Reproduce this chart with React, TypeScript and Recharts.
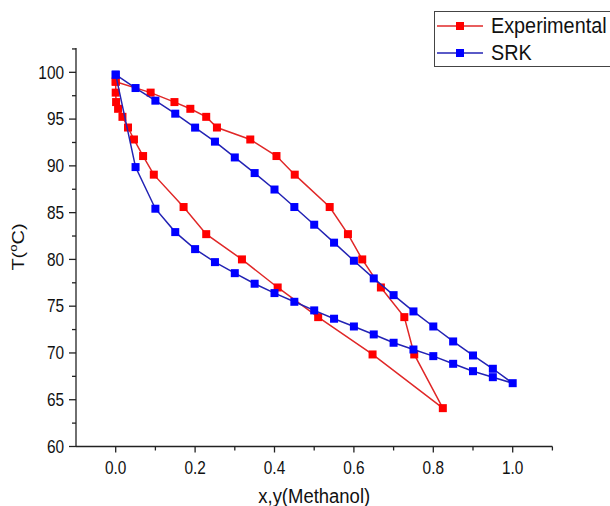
import React from "react";
import { Legend, Scatter, ScatterChart, XAxis, YAxis } from "recharts";

// Experimental T-x-y points, methanol mole fraction
const expT = [99.0, 97.83, 96.82, 96.1, 95.24, 94.1, 92.82, 91.05, 89.06, 85.6, 82.7, 80.0, 77.0, 73.83, 69.84, 64.1];
const expX = [0, 0, 0.001, 0.006, 0.017, 0.031, 0.046, 0.069, 0.096, 0.171, 0.228, 0.318, 0.408, 0.51, 0.647, 0.824];
const expY = [0, 0.088, 0.148, 0.188, 0.228, 0.255, 0.339, 0.405, 0.451, 0.539, 0.585, 0.621, 0.668, 0.727, 0.752, 0.824];

// SRK model
const srkX = [0, 0.05, 0.1, 0.15, 0.2, 0.25, 0.3, 0.35, 0.4, 0.45, 0.5, 0.55, 0.6, 0.65, 0.7, 0.75, 0.8, 0.85, 0.9, 0.95, 1.0];
const srkBubbleT = [99.75, 89.87, 85.42, 82.92, 81.1, 79.71, 78.53, 77.4, 76.4, 75.47, 74.55, 73.66, 72.83, 71.98, 71.09, 70.37, 69.66, 68.84, 68.05, 67.41, 66.77];
const srkDewT = [99.75, 98.32, 96.97, 95.58, 94.09, 92.59, 90.9, 89.23, 87.47, 85.6, 83.71, 81.79, 79.86, 77.97, 76.18, 74.44, 72.83, 71.23, 69.73, 68.31, 66.77];

const xTicks = [0, 0.1, 0.2, 0.3, 0.4, 0.5, 0.6, 0.7, 0.8, 0.9, 1.0, 1.1];
const yTicks = [60, 62.5, 65, 67.5, 70, 72.5, 75, 77.5, 80, 82.5, 85, 87.5, 90, 92.5, 95, 97.5, 100, 102.5];

// closed loop: liquid branch down, vapour branch back up
const expData = [
  ...expT.map((t, i) => ({ x: expX[i], T: t })),
  ...expT.map((t, i) => ({ x: expY[i], T: t })).slice(0, -1).reverse(),
];
const srkData = [
  ...srkX.map((x, i) => ({ x, T: srkBubbleT[i] })),
  ...srkX.map((x, i) => ({ x, T: srkDewT[i] })).slice(0, -1).reverse(),
];

const FONT = "'Liberation Sans', Arial, sans-serif";
const AXIS = "#222";
const SQUEEZE = 0.88; // source picture text is a bit narrow

const square = (fill: string) => (p: any) => (
  <rect x={p.cx - 4} y={p.cy - 4} width={8} height={8} fill={fill} />
);

const XTick = (p: any) => {
  const v = p.payload.value;
  const major = Math.abs(Math.round(v * 10) % 2) === 0;
  return (
    <g>
      <line x1={p.x} x2={p.x} y1={p.y} y2={p.y + (major ? 6 : 4)} stroke={AXIS} strokeWidth={1.3} />
      {major && (
        <text
          transform={`translate(${p.x}, ${p.y + 27}) scale(${SQUEEZE}, 1)`}
          textAnchor="middle"
          fontSize={17.5}
          fontFamily={FONT}
          fill="#111"
        >
          {v.toFixed(1)}
        </text>
      )}
    </g>
  );
};

const YTick = (p: any) => {
  const v = p.payload.value;
  const major = v % 5 === 0;
  return (
    <g>
      <line x1={p.x} x2={p.x - (major ? 7 : 4)} y1={p.y} y2={p.y} stroke={AXIS} strokeWidth={1.3} />
      {major && (
        <text
          transform={`translate(${p.x - 12}, ${p.y}) scale(${SQUEEZE}, 1)`}
          dy="0.36em"
          textAnchor="end"
          fontSize={17.5}
          fontFamily={FONT}
          fill="#111"
        >
          {v}
        </text>
      )}
    </g>
  );
};

const XTitle = (p: any) => {
  const vb = p.viewBox;
  return (
    <text
      transform={`translate(${vb.x + vb.width / 2}, ${vb.y + 56.5}) scale(${SQUEEZE}, 1)`}
      textAnchor="middle"
      fontSize={21}
      fontFamily={FONT}
      fill="#111"
    >
      x,y(Methanol)
    </text>
  );
};

const YTitle = () => (
  <text
    transform="translate(23.5, 247) rotate(-90) scale(1, 0.8)"
    textAnchor="middle"
    fontSize={20}
    fontFamily={FONT}
    fill="#111"
  >
    T(
    <tspan dy={-8} fontSize={13}>o</tspan>
    <tspan dy={8}>C)</tspan>
  </text>
);

const legendItems = [
  { name: "Experimental", color: "#ff0000", line: "#e02828" },
  { name: "SRK", color: "#0000ff", line: "#2323b4" },
];

const LegendBox = () => (
  <div
    style={{
      border: "1px solid #444",
      background: "#fff",
      width: 190,
      height: 56,
      boxSizing: "border-box",
      fontFamily: FONT,
      fontSize: 22.5,
      color: "#111",
    }}
  >
    {legendItems.map((it) => (
      <div key={it.name} style={{ display: "flex", alignItems: "center", height: 27 }}>
        <svg width={46} height={10} style={{ marginLeft: 2, marginRight: 8, flex: "none" }}>
          <line x1={0} x2={46} y1={5} y2={5} stroke={it.line} strokeWidth={1.5} />
          <rect x={19} y={1} width={8} height={8} fill={it.color} />
        </svg>
        <span
          style={{
            lineHeight: "27px",
            whiteSpace: "nowrap",
            display: "inline-block",
            transform: `scaleX(${SQUEEZE})`,
            transformOrigin: "left center",
          }}
        >
          {it.name}
        </span>
      </div>
    ))}
  </div>
);

export default function App() {
  return (
    <div style={{ width: 610, height: 506, overflow: "hidden", background: "#fff" }}>
      <style>{"body{margin:0}"}</style>
      <ScatterChart width={610} height={506} margin={{ top: 48, right: 57.6, bottom: 19.5, left: 0 }}>
        <XAxis
          type="number"
          dataKey="x"
          domain={[-0.1, 1.1]}
          ticks={xTicks}
          interval={0}
          tickSize={0}
          tickMargin={0}
          tickLine={false}
          tick={XTick}
          height={40}
          axisLine={{ stroke: AXIS, strokeWidth: 1.3 }}
          label={{ content: XTitle }}
          allowDataOverflow
        />
        <YAxis
          type="number"
          dataKey="T"
          domain={[60, 102.6]}
          ticks={yTicks}
          interval={0}
          tickSize={0}
          tickMargin={0}
          tickLine={false}
          tick={YTick}
          width={76}
          axisLine={{ stroke: AXIS, strokeWidth: 1.3 }}
          label={{ content: YTitle }}
          allowDataOverflow
        />
        <Legend
          layout="vertical"
          align="center"
          verticalAlign="middle"
          content={LegendBox}
          wrapperStyle={{ top: 11, left: 434, width: 190 }}
        />
        <Scatter
          name="Experimental"
          data={expData}
          line={{ stroke: "#e02828", strokeWidth: 1.5 }}
          lineType="joint"
          shape={square("#ff0000")}
          isAnimationActive={false}
        />
        <Scatter
          name="SRK"
          data={srkData}
          line={{ stroke: "#2323b4", strokeWidth: 1.5 }}
          lineType="joint"
          shape={square("#0000ff")}
          isAnimationActive={false}
        />
      </ScatterChart>
    </div>
  );
}
